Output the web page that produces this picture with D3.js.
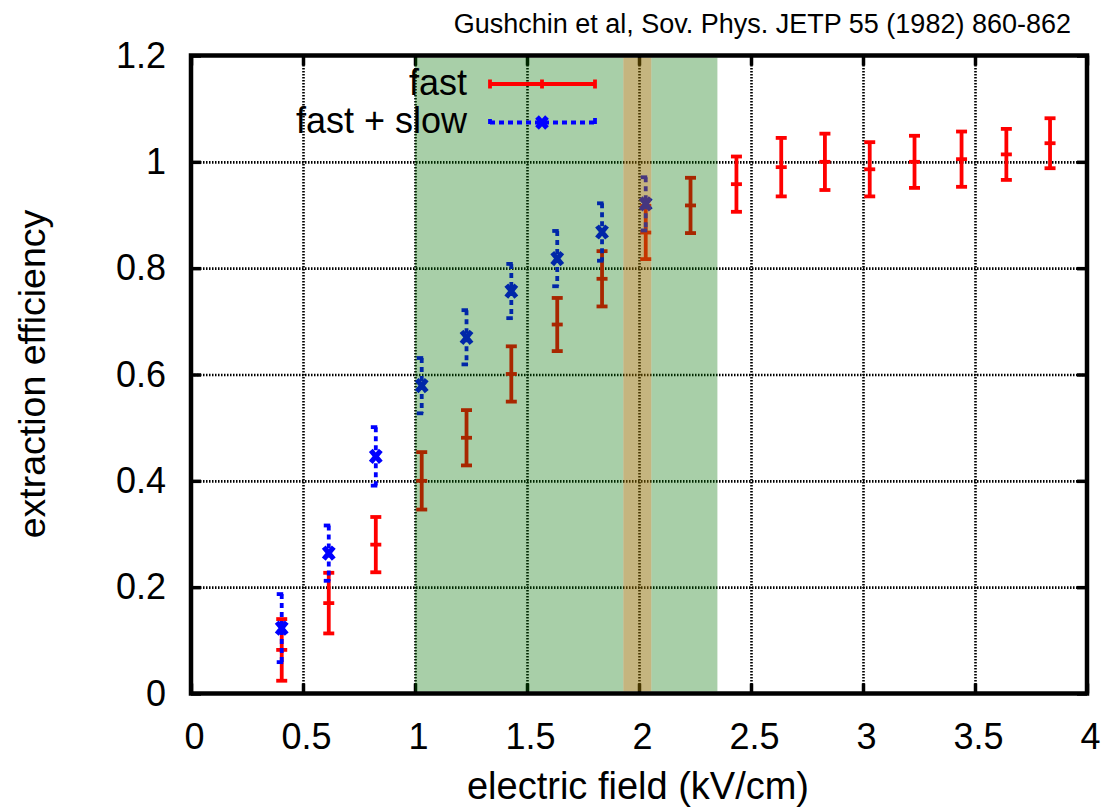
<!DOCTYPE html>
<html lang="en">
<head>
    <meta charset="UTF-8">
    <title>Extraction efficiency</title>
    <script src="https://d3js.org/d3.v7.min.js"></script>
    <style>
        body { margin: 0; background: #fff; }
        text { font-family: "Liberation Sans", Arial, Helvetica, sans-serif; fill: #000; }
        .axis path { display: none; }
        .axis line { stroke: #000; stroke-width: 3.5; }
        .axis text { font-size: 36px; }
        .grid path { display: none; }
        .grid line { stroke: #000; stroke-width: 2.6; stroke-dasharray: 1.5,1.5; }
    </style>
</head>
<body>
    <div id="chart-container"></div>
    <script>
        // fast component (red) - field in kV/cm, efficiency, error
        const fastX = [0.405, 0.615, 0.825, 1.03, 1.23, 1.43, 1.635, 1.835, 2.03, 2.23, 2.435, 2.635, 2.83, 3.03, 3.23, 3.44, 3.64, 3.835];
        const fastY = [0.082, 0.17, 0.28, 0.40, 0.481, 0.601, 0.694, 0.78, 0.867, 0.918, 0.958, 0.99, 1.0, 0.986, 1.0, 1.005, 1.014, 1.035];
        const fastErr = [0.058, 0.057, 0.052, 0.054, 0.052, 0.052, 0.05, 0.052, 0.05, 0.052, 0.052, 0.055, 0.053, 0.051, 0.049, 0.052, 0.048, 0.047];

        // fast + slow (blue)
        const totalX = [0.405, 0.615, 0.825, 1.03, 1.23, 1.43, 1.635, 1.835, 2.03];
        const totalY = [0.123, 0.264, 0.446, 0.579, 0.670, 0.757, 0.818, 0.868, 0.921];
        const totalErr = [0.064, 0.052, 0.055, 0.052, 0.051, 0.051, 0.052, 0.054, 0.05];

        const xTicks = [0, 0.5, 1, 1.5, 2, 2.5, 3, 3.5, 4];
        const yTicks = [0, 0.2, 0.4, 0.6, 0.8, 1, 1.2];

        // shaded field ranges
        const greenRange = [1.0, 2.35];
        const orangeRange = [1.93, 2.055];

        const containerWidth = 1108;
        const containerHeight = 809;
        const margins = { top: 55.5, right: 21, bottom: 115.5, left: 191 };
        const width = containerWidth - margins.left - margins.right;
        const height = containerHeight - margins.top - margins.bottom;

        const root = d3.select("#chart-container")
            .append("svg")
            .attr("width", containerWidth)
            .attr("height", containerHeight);

        const svg = root.append("g")
            .attr("transform", `translate(${margins.left},${margins.top})`);

        const x = d3.scaleLinear().domain([0, 4]).range([0, width]);
        const y = d3.scaleLinear().domain([0, 1.2]).range([height, 0]);

        // grid
        svg.append("g")
            .attr("class", "grid")
            .attr("transform", `translate(0, ${height})`)
            .call(d3.axisBottom(x).tickValues(xTicks.slice(1, -1)).tickSize(-height).tickFormat(""));
        svg.append("g")
            .attr("class", "grid")
            .call(d3.axisLeft(y).tickValues(yTicks.slice(1, -1)).tickSize(-width).tickFormat(""));

        // axes with inward ticks
        svg.append("g")
            .attr("class", "axis")
            .attr("transform", `translate(0, ${height})`)
            .call(d3.axisBottom(x).tickValues(xTicks).tickSize(-10).tickPadding(30).tickFormat(d3.format("")))
            .selectAll("text").attr("dx", 3);
        svg.append("g")
            .attr("class", "axis")
            .call(d3.axisLeft(y).tickValues(yTicks).tickSize(-10).tickPadding(25).tickFormat(d3.format("")));
        svg.append("g")
            .attr("class", "axis")
            .call(d3.axisTop(x).tickValues(xTicks).tickSize(-10).tickFormat(""));
        svg.append("g")
            .attr("class", "axis")
            .attr("transform", `translate(${width}, 0)`)
            .call(d3.axisRight(y).tickValues(yTicks).tickSize(-10).tickFormat(""));

        // fast error bars
        const fastData = fastX.map((d, i) => ({ x: d, y: fastY[i], e: fastErr[i] }));
        const fastG = svg.selectAll(".fast")
            .data(fastData)
            .enter()
            .append("g")
            .attr("class", "fast")
            .attr("stroke", "#ff0000")
            .attr("stroke-width", 3.8);
        fastG.append("line")
            .attr("x1", d => x(d.x)).attr("x2", d => x(d.x))
            .attr("y1", d => y(d.y + d.e)).attr("y2", d => y(d.y - d.e));
        fastG.append("line")
            .attr("x1", d => x(d.x) - 5.5).attr("x2", d => x(d.x) + 5.5)
            .attr("y1", d => y(d.y + d.e)).attr("y2", d => y(d.y + d.e));
        fastG.append("line")
            .attr("x1", d => x(d.x) - 5.5).attr("x2", d => x(d.x) + 5.5)
            .attr("y1", d => y(d.y - d.e)).attr("y2", d => y(d.y - d.e));
        fastG.append("line")
            .attr("x1", d => x(d.x) - 5.5).attr("x2", d => x(d.x) + 5.5)
            .attr("y1", d => y(d.y)).attr("y2", d => y(d.y));

        // fast + slow error bars (dashed, x marker)
        const totalData = totalX.map((d, i) => ({ x: d, y: totalY[i], e: totalErr[i] }));
        const totG = svg.selectAll(".total")
            .data(totalData)
            .enter()
            .append("g")
            .attr("class", "total")
            .attr("stroke", "#0000ff")
            .attr("stroke-width", 3.8);
        totG.append("line")
            .attr("x1", d => x(d.x)).attr("x2", d => x(d.x))
            .attr("y1", d => y(d.y + d.e)).attr("y2", d => y(d.y - d.e))
            .attr("stroke-dasharray", "5,4");
        totG.append("line")
            .attr("x1", d => x(d.x) - 5).attr("x2", d => x(d.x) + 1.5)
            .attr("y1", d => y(d.y + d.e)).attr("y2", d => y(d.y + d.e));
        totG.append("line")
            .attr("x1", d => x(d.x) - 5).attr("x2", d => x(d.x) + 1.5)
            .attr("y1", d => y(d.y - d.e)).attr("y2", d => y(d.y - d.e));
        totG.append("path")
            .attr("stroke-width", 5)
            .attr("d", d => {
                const cx = x(d.x), cy = y(d.y);
                return `M${cx - 5},${cy - 6}L${cx + 5},${cy + 6}M${cx - 5},${cy + 6}L${cx + 5},${cy - 6}`;
            });

        // legend
        const legend = root.append("g");
        legend.append("text")
            .attr("x", 467).attr("y", 95)
            .attr("text-anchor", "end")
            .style("font-size", "36px")
            .text("fast");
        legend.append("text")
            .attr("x", 467).attr("y", 133)
            .attr("text-anchor", "end")
            .style("font-size", "36px")
            .text("fast + slow");
        const lr = legend.append("g").attr("stroke", "#ff0000").attr("stroke-width", 3.8);
        lr.append("line").attr("x1", 490).attr("x2", 595).attr("y1", 84).attr("y2", 84);
        [490, 542, 595].forEach(px => {
            lr.append("line").attr("x1", px).attr("x2", px).attr("y1", 79.5).attr("y2", 88.5);
        });
        const lb = legend.append("g").attr("stroke", "#0000ff").attr("stroke-width", 3.8);
        lb.append("line").attr("x1", 490).attr("x2", 595).attr("y1", 122.5).attr("y2", 122.5)
            .attr("stroke-dasharray", "5,4");
        lb.append("line").attr("x1", 490).attr("x2", 490).attr("y1", 119).attr("y2", 124);
        lb.append("line").attr("x1", 595).attr("x2", 595).attr("y1", 118).attr("y2", 124);
        lb.append("path").attr("stroke-width", 5).attr("d", "M537,117L547,128M537,128L547,117");

        // translucent shaded bands over everything inside the frame
        const bandTop = y(1.2) + 2;
        const bandBottom = y(0) - 2;
        const greenPieces = [[greenRange[0], orangeRange[0]], [orangeRange[1], greenRange[1]]];
        svg.selectAll(".band-green")
            .data(greenPieces)
            .enter()
            .append("rect")
            .attr("class", "band-green")
            .attr("x", d => x(d[0]))
            .attr("width", d => x(d[1]) - x(d[0]))
            .attr("y", bandTop)
            .attr("height", bandBottom - bandTop)
            .style("fill", "rgb(0,114,0)")
            .style("fill-opacity", 0.34);
        svg.append("rect")
            .attr("x", x(orangeRange[0]))
            .attr("width", x(orangeRange[1]) - x(orangeRange[0]))
            .attr("y", bandTop)
            .attr("height", bandBottom - bandTop)
            .style("fill", "rgb(140,108,0)")
            .style("fill-opacity", 0.5);

        // frame
        svg.append("rect")
            .attr("x", 0).attr("y", 0)
            .attr("width", width).attr("height", height)
            .attr("fill", "none")
            .attr("stroke", "#000")
            .attr("stroke-width", 4.5);

        // axis labels
        root.append("text")
            .attr("x", 638).attr("y", 799)
            .attr("text-anchor", "middle")
            .style("font-size", "38px")
            .text("electric field (kV/cm)");
        root.append("text")
            .attr("transform", "translate(45, 374) rotate(-90)")
            .attr("text-anchor", "middle")
            .style("font-size", "37.5px")
            .text("extraction efficiency");

        // citation
        root.append("text")
            .attr("x", 1071).attr("y", 33)
            .attr("text-anchor", "end")
            .style("font-size", "27px")
            .text("Gushchin et al, Sov. Phys. JETP 55 (1982) 860-862");
    </script>
</body>
</html>
